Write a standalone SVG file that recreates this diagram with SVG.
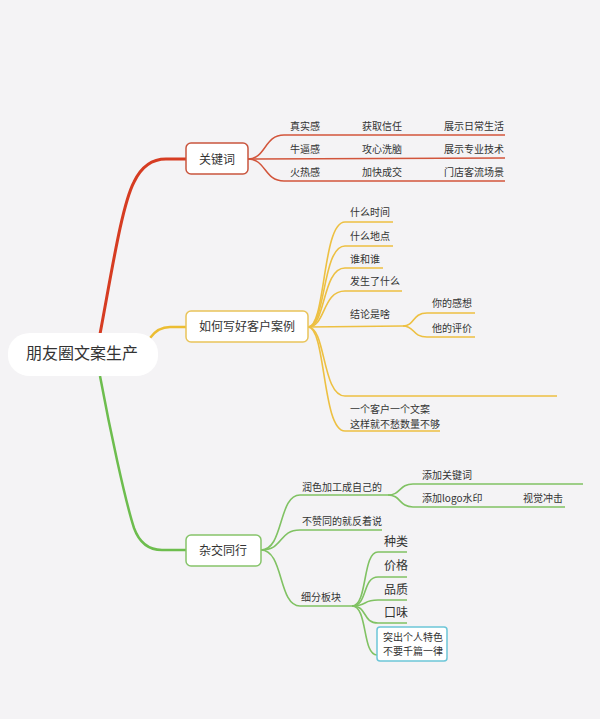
<svg xmlns="http://www.w3.org/2000/svg" width="600" height="719" viewBox="0 0 600 719">
<style>
text{font-family:"Noto Sans CJK SC","Noto Sans",sans-serif;fill:#333}
.s{font-size:10px}
.m{font-size:12px}
.b{font-size:13px}
.r{fill:none;stroke:#d2553b;stroke-width:1.5}
.y{fill:none;stroke:#edc042;stroke-width:1.6}
.g{fill:none;stroke:#80c263;stroke-width:1.6}
.box{fill:#fff;stroke-width:1.5}
</style>
<rect width="600" height="719" fill="#f4f3f5"/>
<g id="connectors">
<path d="M100,334 C112,270 122,205 134,182 Q145,159 166,159 L186,159" fill="none" stroke="#d63c22" stroke-width="3"/>
<path d="M150,338 Q158,327 170,327 L186,327" fill="none" stroke="#ecbd32" stroke-width="2.5"/>
<path d="M100,376 C110,430 125,500 134,528 Q142,550 162,550 L186,550" fill="none" stroke="#6dbd4e" stroke-width="2.5"/>
<path class="r" d="M248,159 C266,159 264,135 284,135 L505,135"/>
<path class="r" d="M248,159 L505,158"/>
<path class="r" d="M248,159 C266,159 264,181 284,181 L505,181"/>
<path class="y" d="M308,327 C326,327 322,222 345,222 L393,222"/>
<path class="y" d="M308,327 C326,327 322,246 345,246 L393,246"/>
<path class="y" d="M308,327 C326,327 322,268 345,268 L383,268"/>
<path class="y" d="M308,327 C326,327 322,291 345,291 L402,291"/>
<path class="y" d="M308,327 L403,326"/>
<path class="y" d="M403,326 C415,326 412,313 427,313 L475,313"/>
<path class="y" d="M403,326 C415,326 412,337 427,337 L475,337"/>
<path class="y" d="M308,327 C326,327 322,396 345,396 L557,396"/>
<path class="y" d="M308,327 C326,327 322,431 345,431 L440,431"/>
<path class="g" d="M261,550 C284,550 278,495 300,495 L388,495"/>
<path class="g" d="M388,495 C401,495 399,484 413,484 L583,484"/>
<path class="g" d="M388,495 C401,495 399,507 413,507 L565,507"/>
<path class="g" d="M261,550 C284,550 278,530 300,530 L382,530"/>
<path class="g" d="M261,550 C284,550 278,606 300,606 L352,606"/>
<path class="g" d="M352,606 C368,606 362,552 378,552 L407,552"/>
<path class="g" d="M352,606 C368,606 362,577 378,577 L407,577"/>
<path class="g" d="M352,606 C368,606 362,600 378,600 L407,600"/>
<path class="g" d="M352,606 C368,606 362,623 378,623 L407,623"/>
<path class="g" d="M352,606 C368,606 362,655 377,655"/>
</g>
<g id="root">
<rect x="8" y="333" width="150" height="43" rx="22" ry="20" fill="#fff"/>
<text x="82" y="359" font-size="16" text-anchor="middle">朋友圈文案生产</text>
</g>
<g id="n-keywords">
<rect class="box" x="186" y="143" width="62" height="31" rx="5" stroke="#c9553e"/>
<text class="m" x="217" y="164" text-anchor="middle">关键词</text>
<text class="s" x="290" y="130">真实感</text>
<text class="s" x="362" y="130">获取信任</text>
<text class="s" x="444" y="130">展示日常生活</text>
<text class="s" x="290" y="153">牛逼感</text>
<text class="s" x="362" y="153">攻心洗脑</text>
<text class="s" x="444" y="153">展示专业技术</text>
<text class="s" x="290" y="176">火热感</text>
<text class="s" x="362" y="176">加快成交</text>
<text class="s" x="444" y="176">门店客流场景</text>
</g>
<g id="n-case">
<rect class="box" x="186" y="311" width="122" height="31" rx="5" stroke="#e9c45a"/>
<text class="m" x="247" y="331" text-anchor="middle">如何写好客户案例</text>
<text class="s" x="350" y="216">什么时间</text>
<text class="s" x="350" y="240">什么地点</text>
<text class="s" x="350" y="263">谁和谁</text>
<text class="s" x="350" y="285">发生了什么</text>
<text class="s" x="350" y="318">结论是啥</text>
<text class="s" x="432" y="307">你的感想</text>
<text class="s" x="432" y="332">他的评价</text>
<text class="s" x="350" y="413">一个客户一个文案</text>
<text class="s" x="350" y="428">这样就不愁数量不够</text>
</g>
<g id="n-cross">
<rect class="box" x="186" y="535" width="75" height="31" rx="5" stroke="#86c46a"/>
<text class="m" x="223" y="555" text-anchor="middle">杂交同行</text>
<text class="s" x="302" y="491">润色加工成自己的</text>
<text class="s" x="422" y="479">添加关键词</text>
<text class="s" x="422" y="502">添加logo水印</text>
<text class="s" x="523" y="502">视觉冲击</text>
<text class="s" x="302" y="525">不赞同的就反着说</text>
<text class="s" x="301" y="601">细分板块</text>
<text class="m" x="384" y="546">种类</text>
<text class="m" x="384" y="570">价格</text>
<text class="m" x="384" y="594">品质</text>
<text class="m" x="384" y="617">口味</text>
<rect class="box" x="377" y="627" width="70" height="34" rx="3" stroke="#6cc6d8"/>
<text class="s" x="383" y="641">突出个人特色</text>
<text class="s" x="383" y="655">不要千篇一律</text>
</g>
</svg>
